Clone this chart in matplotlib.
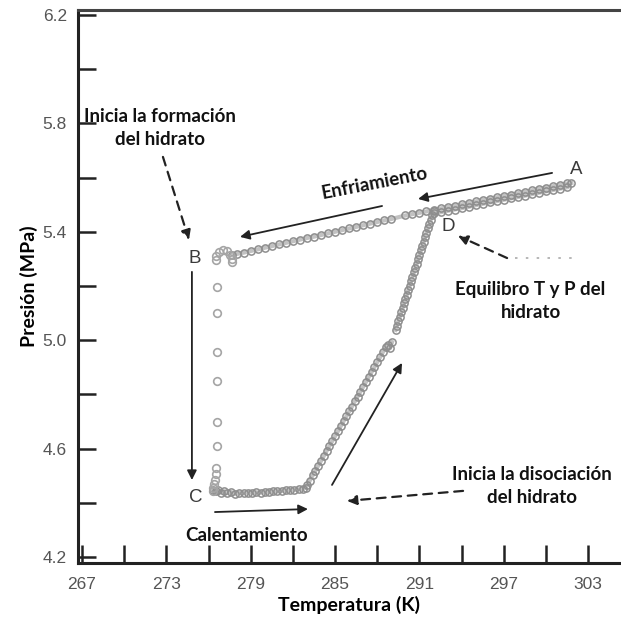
import matplotlib
matplotlib.use("Agg")
import matplotlib.pyplot as plt

# --- data (T in K, P in MPa) ---
# cooling A -> B
cool_T = [301.8, 301.5, 301.0, 300.5, 300.0, 299.5, 299.0, 298.5, 298.0, 297.5, 297.0,
          296.5, 296.0, 295.5, 295.0, 294.5, 294.0, 293.5, 293.0, 292.5, 292.0, 291.5,
          291.0, 290.5, 290.0, 289.0, 288.5, 288.0, 287.5, 287.0, 286.5, 286.0, 285.5,
          285.0, 284.5, 284.0, 283.5, 283.0, 282.5, 282.0, 281.5, 281.0, 280.5, 280.0,
          279.5, 279.0, 278.5, 278.0, 277.7]
cool_P = [5.580, 5.578, 5.573, 5.568, 5.563, 5.558, 5.553, 5.547, 5.542, 5.537, 5.532,
          5.527, 5.522, 5.517, 5.512, 5.506, 5.501, 5.496, 5.491, 5.486, 5.481, 5.475,
          5.470, 5.465, 5.460, 5.447, 5.442, 5.436, 5.430, 5.424, 5.418, 5.412, 5.406,
          5.400, 5.394, 5.388, 5.382, 5.377, 5.371, 5.365, 5.359, 5.353, 5.347, 5.341,
          5.335, 5.329, 5.323, 5.318, 5.314]

# hook at B and pressure drop B -> C
drop_T = [277.7, 277.65, 277.5, 277.3, 277.0, 276.75, 276.55, 276.5, 276.6, 276.6, 276.6,
          276.6, 276.6, 276.6, 276.55, 276.5, 276.45, 276.4, 276.35, 276.3]
drop_P = [5.300, 5.290, 5.315, 5.330, 5.333, 5.325, 5.310, 5.295, 5.196, 5.100, 4.956,
          4.850, 4.698, 4.610, 4.530, 4.505, 4.485, 4.470, 4.455, 4.445]

# heating at roughly constant pressure from C
flat_T = [276.3, 276.5, 276.7, 276.9, 277.1, 277.3, 277.6, 277.9, 278.2, 278.5, 278.8,
          279.1, 279.4, 279.7, 280.0, 280.3, 280.6, 280.9, 281.2, 281.5, 281.8, 282.1,
          282.4, 282.7, 282.9]
flat_P = [4.448, 4.442, 4.446, 4.438, 4.443, 4.436, 4.440, 4.434, 4.437, 4.436, 4.438,
          4.437, 4.439, 4.438, 4.440, 4.441, 4.442, 4.443, 4.444, 4.446, 4.447, 4.448,
          4.450, 4.452, 4.455]

# dissociation rise
rise_T = [283.0, 283.2, 283.4, 283.6, 283.8, 284.0, 284.2, 284.4, 284.6, 284.8, 285.0,
          285.2, 285.4, 285.6, 285.8, 286.0, 286.2, 286.4, 286.6, 286.8, 287.0, 287.2,
          287.4, 287.6, 287.8, 288.0, 288.2, 288.4, 288.6, 288.75, 288.9, 289.05]
rise_P = [4.464, 4.482, 4.501, 4.519, 4.537, 4.555, 4.573, 4.592, 4.610, 4.628, 4.646,
          4.664, 4.683, 4.701, 4.719, 4.737, 4.755, 4.774, 4.792, 4.810, 4.828, 4.846,
          4.865, 4.883, 4.901, 4.919, 4.937, 4.956, 4.974, 4.982, 4.970, 4.993]

# steeper rise up to D
steep_T = [289.3, 289.4, 289.5, 289.6, 289.7, 289.8, 289.9, 290.0, 290.1, 290.2, 290.3,
           290.4, 290.5, 290.6, 290.7, 290.8, 290.9, 291.0, 291.1, 291.2, 291.3, 291.4,
           291.5, 291.6, 291.7, 291.8, 291.9, 292.0]
steep_P = [5.038, 5.054, 5.071, 5.087, 5.103, 5.119, 5.136, 5.152, 5.168, 5.184, 5.201,
           5.217, 5.233, 5.250, 5.266, 5.282, 5.298, 5.315, 5.331, 5.347, 5.363, 5.380,
           5.396, 5.412, 5.428, 5.445, 5.461, 5.477]

# back from D towards A
back_T = [292.0, 292.5, 293.0, 293.5, 294.0, 294.5, 295.0, 295.5, 296.0, 296.5, 297.0,
          297.5, 298.0, 298.5, 299.0, 299.5, 300.0, 300.5, 301.0, 301.5]
back_P = [5.470, 5.472, 5.477, 5.482, 5.487, 5.492, 5.498, 5.503, 5.508, 5.513, 5.518,
          5.523, 5.528, 5.533, 5.539, 5.544, 5.549, 5.554, 5.559, 5.564]

x_ticks = [267, 270, 273, 276, 279, 282, 285, 288, 291, 294, 297, 300, 303]
x_labels = ["267", "", "273", "", "279", "", "285", "", "291", "", "297", "", "303"]
y_ticks = [4.2, 4.4, 4.6, 4.8, 5.0, 5.2, 5.4, 5.6, 5.8, 6.0, 6.2]
y_labels = ["4.2", "", "4.6", "", "5.0", "", "5.4", "", "5.8", "", "6.2"]

ANN_FONT = "Lato"
TICK_FONT = "Liberation Sans"

fig = plt.figure(figsize=(6.21, 6.22), dpi=100)
ax = fig.add_axes([78 / 621, 1 - 563 / 622, 1 - 78 / 621, 553 / 622])
ax.set_xlim(266.72, 305.33)
ax.set_ylim(4.178, 6.218)

marker_kw = dict(marker="o", markersize=5.2, markerfacecolor="none",
                 markeredgecolor="#8e8e8e", markeredgewidth=1.1)
# dense runs: circles over a faint band
for xs, ys in [(cool_T, cool_P), (flat_T, flat_P), (rise_T, rise_P),
               (steep_T, steep_P), (back_T, back_P)]:
    ax.plot(xs, ys, color="#c2c2c2", lw=3.0, zorder=2)
    ax.plot(xs, ys, linestyle="none", zorder=3, **marker_kw)
# sparse pressure drop
ax.plot(drop_T, drop_P, linestyle="none", zorder=3, marker="o", markersize=5.5,
        markerfacecolor="none", markeredgecolor="#a5a5a5", markeredgewidth=1.2)

# axes styling
for side in ["left", "bottom"]:
    ax.spines[side].set_linewidth(2.2)
    ax.spines[side].set_color("#222222")
ax.spines["top"].set_linewidth(2.2)
ax.spines["top"].set_color("#444444")
ax.spines["right"].set_visible(False)

ax.set_xticks(x_ticks)
ax.set_xticklabels(x_labels)
ax.set_yticks(y_ticks)
ax.set_yticklabels(y_labels)
ax.tick_params(direction="in", length=13, width=1.8, color="#222222",
               labelcolor="#555555", labelsize=12.5)
ax.tick_params(axis="x", pad=10)
ax.tick_params(axis="y", pad=8)
for lab in ax.get_xticklabels() + ax.get_yticklabels():
    lab.set_fontfamily(TICK_FONT)

ax.set_xlabel("Temperatura (K)", fontfamily=ANN_FONT, fontweight="bold",
              fontsize=14, labelpad=3)
ax.set_ylabel("Presión (MPa)", fontfamily=ANN_FONT, fontweight="bold",
              fontsize=14, labelpad=3)

txt = dict(fontfamily=ANN_FONT, fontweight="bold", fontsize=13.5, color="#111111")
ax.text(272.55, 5.783, "Inicia la formación\ndel hidrato", ha="center", va="center",
        linespacing=1.45, **txt)
ax.text(298.9, 5.145, "Equilibro T y P del\nhidrato", ha="center", va="center",
        linespacing=1.45, **txt)
ax.text(299.0, 4.462, "Inicia la disociación\ndel hidrato", ha="center", va="center",
        linespacing=1.45, **txt)
ax.text(278.74, 4.281, "Calentamiento", ha="center", va="center", **txt)
ax.text(287.77, 5.58, "Enfriamiento", ha="center", va="center", rotation=11,
        rotation_mode="anchor", **txt)

lett = dict(fontfamily=TICK_FONT, fontsize=13.5, color="#3a3a3a", ha="center", va="center")
ax.text(302.13, 5.628, "A", **lett)
ax.text(275.04, 5.303, "B", **lett)
ax.text(275.1, 4.418, "C", **lett)
ax.text(293.03, 5.418, "D", **lett)

solid = dict(arrowstyle="-|>", color="#222222", lw=1.3, mutation_scale=14,
             shrinkA=0, shrinkB=0)
dashed = dict(arrowstyle="-|>", color="#222222", lw=1.6, mutation_scale=14,
              shrinkA=0, shrinkB=0, linestyle=(0, (4, 3)))

ax.annotate("", xy=(290.9, 5.521), xytext=(300.43, 5.617), arrowprops=solid)
ax.annotate("", xy=(278.24, 5.381), xytext=(288.34, 5.495), arrowprops=solid)
ax.annotate("", xy=(274.82, 4.484), xytext=(274.82, 5.252), arrowprops=solid)
ax.annotate("", xy=(283.07, 4.377), xytext=(276.46, 4.366), arrowprops=solid)
ax.annotate("", xy=(289.76, 4.916), xytext=(284.78, 4.466), arrowprops=solid)

ax.annotate("", xy=(274.61, 5.370), xytext=(272.76, 5.676), arrowprops=dashed)
ax.annotate("", xy=(293.74, 5.385), xytext=(297.23, 5.303), arrowprops=dashed)
ax.annotate("", xy=(285.85, 4.407), xytext=(294.1, 4.444), arrowprops=dashed)
ax.plot([297.8, 302.3], [5.303, 5.303], color="#aaaaaa", lw=1.2,
        linestyle=(0, (1.5, 5)))

fig.savefig("out.png", dpi=100)
